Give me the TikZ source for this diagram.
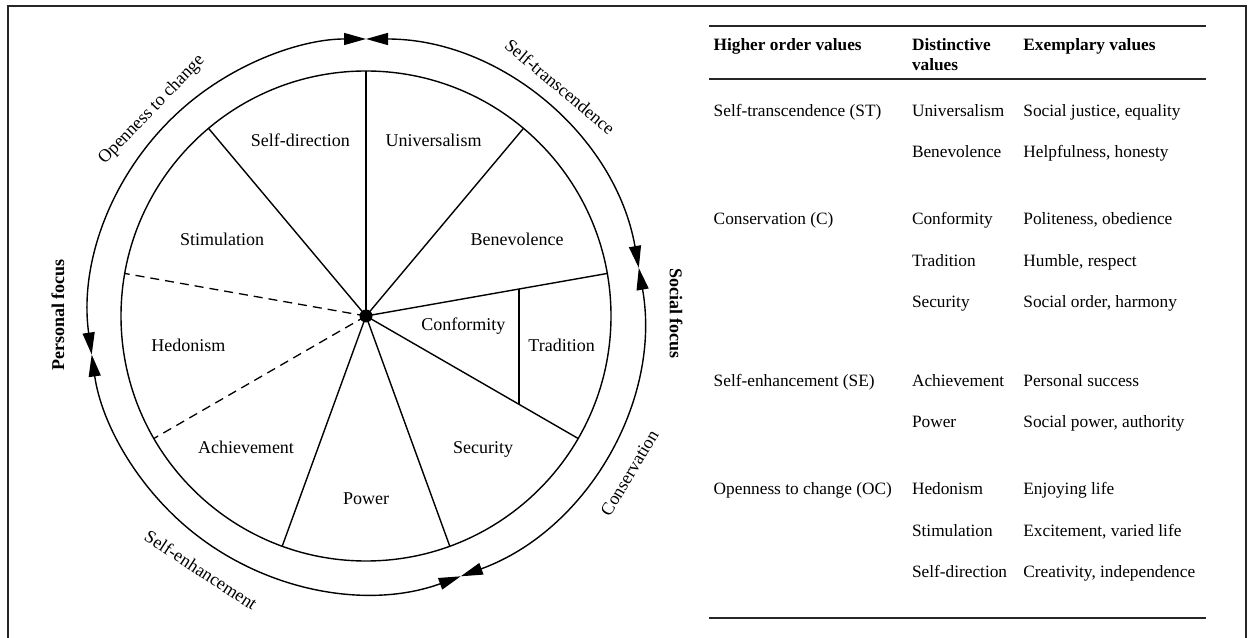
\documentclass[tikz,border=0pt]{standalone}
\usepackage{fontspec}
\setmainfont{Liberation Serif}
\usetikzlibrary{arrows.meta,calc}
\tikzset{
  ln/.style={line width=1.4pt, black},
  dsh/.style={line width=1.3pt, black, dash pattern=on 9pt off 6pt},
  seg/.style={font=\fontsize{18}{21}\selectfont, anchor=base, inner sep=0pt},
  outer/.style={font=\fontsize{18}{21}\selectfont, inner sep=0pt},
  focus/.style={font=\fontsize{18}{21}\selectfont\bfseries, inner sep=0pt},
  cell/.style={font=\fontsize{17.3}{20}\selectfont, anchor=base west, inner sep=0pt},
  hcell/.style={font=\fontsize{17.3}{20}\selectfont\bfseries, anchor=base west, inner sep=0pt},
  rule/.style={line width=1.8pt, black!85},
  tri/.tip={Triangle[length=22pt,width=12pt]},
  frame/.style={line width=1.5pt, black!85}
}
\begin{document}
\begin{tikzpicture}[x=1pt,y=1pt]
\useasboundingbox (0,0) rectangle (1249,637);
% frame
\draw[frame] (8,-2) -- (8,631) -- (1246,631) -- (1246,-2);
% centre
\coordinate (C) at (366,321);
% circles
\draw[ln] (C) circle[radius=245];
% outer arcs with arrows
\draw[ln,tri-tri] (C) ++(188:277) arc[start angle=188, end angle=90, radius=277];
\draw[ln,tri-tri] (C) ++(90:277) arc[start angle=90, end angle=10, radius=277];
\draw[ln,tri-tri] (C) ++(10:277) arc[start angle=10, end angle=-70, radius=277];
\draw[ln,tri-tri] (C) ++(-70:277) arc[start angle=-70, end angle=-172, radius=277];
% spokes
\foreach \a/\n in {10/s1,50/s2,90/s3,130/s4,250/s7,290/s8,330/s9}{
  \coordinate (\n) at ($(C)+(\a:245)$);
  \draw[ln] (C) -- (\n);
}
\coordinate (s5) at ($(C)+(170:245)$);
\coordinate (s6) at ($(C)+(210:245)$);
\draw[dsh] (C) -- (s5);
\draw[dsh] (C) -- (s6);
% conformity / tradition divider
\coordinate (dt) at (518.8,347.9);
\coordinate (db) at (518.8,232.8);
\draw[ln] (dt) -- (db);
\fill (C) circle[radius=6.5];
% segment labels
\node[seg] (sd) at (300.4,490) {Self-direction};
\node[seg] (un) at (433.5,490) {Universalism};
\node[seg] (st) at (222,391) {Stimulation};
\node[seg] (be) at (517,391) {Benevolence};
\node[seg] (he) at (188.4,285) {Hedonism};
\node[seg] (co) at (463.4,306) {Conformity};
\node[seg] (tr) at (561.6,285) {Tradition};
\node[seg] (ac) at (246,183) {Achievement};
\node[seg] (se) at (483,183) {Security};
\node[seg] (po) at (366,132) {Power};
% outer labels
\node[outer, rotate=46] (oc) at (151.8,527) {Openness to change};
\node[outer, rotate=-40] (stl) at (560,550.3) {Self-transcendence};
\node[outer, rotate=59] (cl) at (629.5,164) {Conservation};
\node[outer, rotate=-33] (sel) at (201,67) {Self-enhancement};
\node[focus, rotate=-90] (sf) at (676,323.5) {Social focus};
\node[focus, rotate=90] (pf) at (58,322) {Personal focus};
% table rules
\draw[rule] (709,611) -- (1206,611);
\draw[rule] (709,558) -- (1206,558);
\draw[rule] (709,19.3) -- (1206,19.3);
% header
\node[hcell] (h1) at (713.5,586.3) {Higher order values};
\node[hcell] (h2) at (911.8,586.3) {Distinctive};
\node[hcell] (h2b) at (911.8,566.3) {values};
\node[hcell] (h3) at (1023.2,586.3) {Exemplary values};
% rows
\node[cell] (r1a) at (713.5,520) {Self-transcendence (ST)};
\node[cell] (r1b) at (911.8,520) {Universalism};
\node[cell] (r1c) at (1023.2,520) {Social justice, equality};
\node[cell] (r2b) at (911.8,479) {Benevolence};
\node[cell] (r2c) at (1023.2,479) {Helpfulness, honesty};
\node[cell] (r3a) at (713.5,412) {Conservation (C)};
\node[cell] (r3b) at (911.8,412) {Conformity};
\node[cell] (r3c) at (1023.2,412) {Politeness, obedience};
\node[cell] (r4b) at (911.8,370.5) {Tradition};
\node[cell] (r4c) at (1023.2,370.5) {Humble, respect};
\node[cell] (r5b) at (911.8,329) {Security};
\node[cell] (r5c) at (1023.2,329) {Social order, harmony};
\node[cell] (r6a) at (713.5,250.5) {Self-enhancement (SE)};
\node[cell] (r6b) at (911.8,250.5) {Achievement};
\node[cell] (r6c) at (1023.2,250.5) {Personal success};
\node[cell] (r7b) at (911.8,209.5) {Power};
\node[cell] (r7c) at (1023.2,209.5) {Social power, authority};
\node[cell] (r8a) at (713.5,142) {Openness to change (OC)};
\node[cell] (r8b) at (911.8,142) {Hedonism};
\node[cell] (r8c) at (1023.2,142) {Enjoying life};
\node[cell] (r9b) at (911.8,101) {Stimulation};
\node[cell] (r9c) at (1023.2,101) {Excitement, varied life};
\node[cell] (r10b) at (911.8,60) {Self-direction};
\node[cell] (r10c) at (1023.2,60) {Creativity, independence};
\end{tikzpicture}
\end{document}
